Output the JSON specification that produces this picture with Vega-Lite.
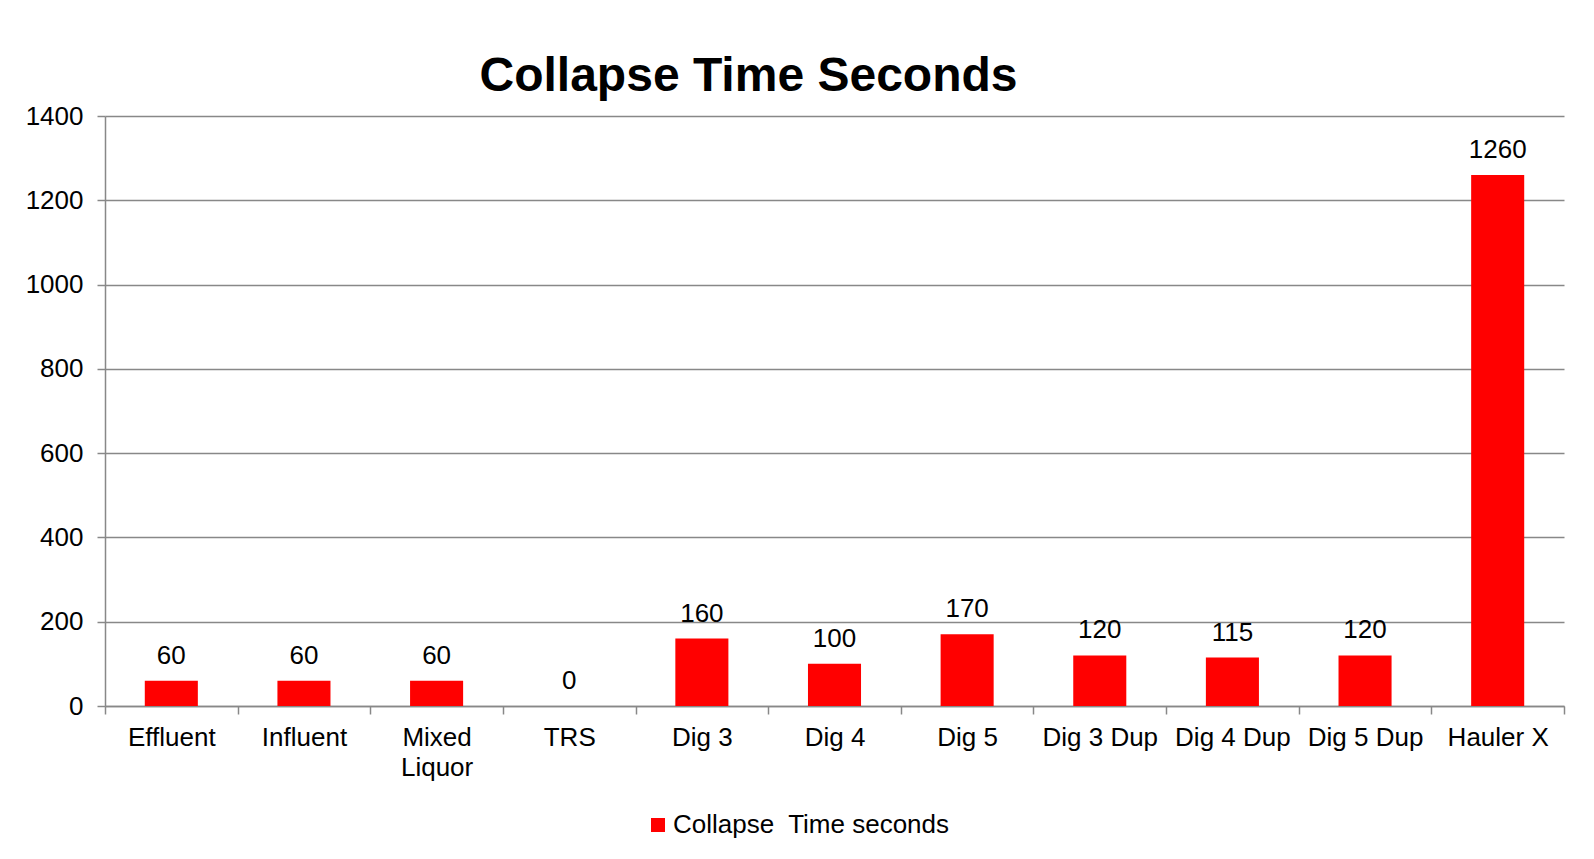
{
  "$schema": "https://vega.github.io/schema/vega-lite/v6.json",
  "width": 1459,
  "height": 590,
  "autosize": "none",
  "padding": {"left": 105, "top": 116, "right": 30, "bottom": 153},
  "background": "white",
  "config": {"font": "Liberation Sans", "view": {"stroke": null}},
  "title": {"text": "Collapse Time Seconds", "fontSize": 48, "font": "Liberation Sans", "fontWeight": "bold", "color": "black", "anchor": "middle", "dx": -86, "offset": 2},
  "data": {"values": [
    {"category": "Effluent", "value": 60, "series": "Collapse\u00a0 Time seconds"},
    {"category": "Influent", "value": 60, "series": "Collapse\u00a0 Time seconds"},
    {"category": "Mixed Liquor", "value": 60, "series": "Collapse\u00a0 Time seconds"},
    {"category": "TRS", "value": 0, "series": "Collapse\u00a0 Time seconds"},
    {"category": "Dig 3", "value": 160, "series": "Collapse\u00a0 Time seconds"},
    {"category": "Dig 4", "value": 100, "series": "Collapse\u00a0 Time seconds"},
    {"category": "Dig 5", "value": 170, "series": "Collapse\u00a0 Time seconds"},
    {"category": "Dig 3 Dup", "value": 120, "series": "Collapse\u00a0 Time seconds"},
    {"category": "Dig 4 Dup", "value": 115, "series": "Collapse\u00a0 Time seconds"},
    {"category": "Dig 5 Dup", "value": 120, "series": "Collapse\u00a0 Time seconds"},
    {"category": "Hauler X", "value": 1260, "series": "Collapse\u00a0 Time seconds"}
  ]},
  "encoding": {
    "x": {
      "field": "category", "type": "nominal", "sort": null,
      "scale": {"paddingInner": 0, "paddingOuter": 0},
      "axis": {
        "title": null, "labelAngle": 0, "tickBand": "extent", "grid": false,
        "domainColor": "#888888", "domainWidth": 1.5, "tickColor": "#888888", "tickWidth": 1.5, "tickSize": 8,
        "labelFontSize": 26, "labelColor": "black", "labelPadding": 10, "labelLineHeight": 30,
        "labelExpr": "datum.label == 'Mixed Liquor' ? ['Mixed', 'Liquor'] : datum.label"
      }
    },
    "y": {
      "field": "value", "type": "quantitative",
      "scale": {"domain": [0, 1400], "nice": false},
      "axis": {
        "title": null, "values": [0, 200, 400, 600, 800, 1000, 1200, 1400], "format": "d",
        "grid": true, "gridColor": "#888888", "gridWidth": 1.5,
        "domainColor": "#888888", "domainWidth": 1.5, "tickColor": "#888888", "tickWidth": 1.5, "tickSize": 8,
        "labelFontSize": 26, "labelColor": "black", "labelPadding": 14
      }
    }
  },
  "layer": [
    {
      "mark": {"type": "bar", "width": {"band": 0.4}},
      "encoding": {
        "color": {
          "field": "series", "type": "nominal",
          "scale": {"range": ["#ff0000"]},
          "legend": {
            "title": null, "orient": "none", "legendX": 540, "legendY": 696,
            "symbolType": "square", "symbolSize": 196, "symbolStrokeWidth": 0,
            "labelFontSize": 26, "labelColor": "black", "labelOffset": 2, "labelLimit": 0, "padding": 0
          }
        }
      }
    },
    {
      "mark": {"type": "text", "fontSize": 26, "baseline": "alphabetic", "dy": -17, "color": "black"},
      "encoding": {"text": {"field": "value", "type": "quantitative"}}
    }
  ]
}
